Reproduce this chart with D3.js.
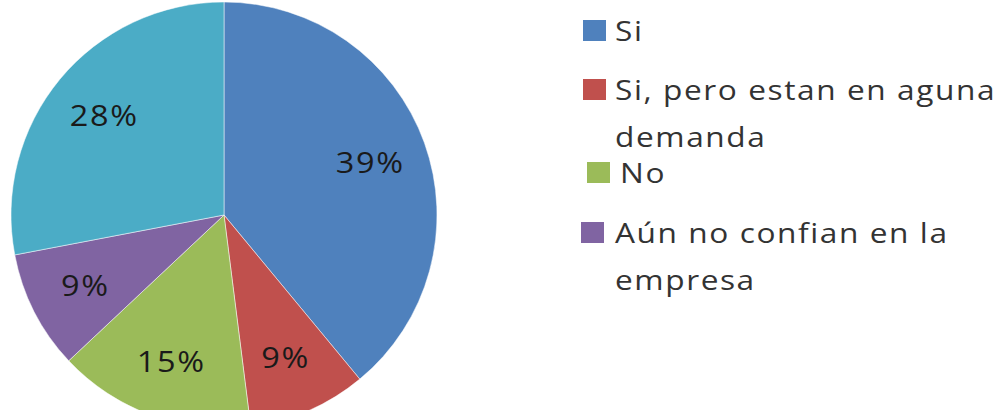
<!DOCTYPE html>
<html>
<head>
<meta charset="utf-8">
<script src="https://cdn.jsdelivr.net/npm/d3@7"></script>
<style>
    body { margin: 0; background: #fff; }
    text { font-family: "Open Sans", "DejaVu Sans", sans-serif; }
</style>
</head>
<body>
<div id="chart"></div>
<script>
// slices, clockwise from 12 o'clock
const categories = ["Si", "Si, pero estan en aguna demanda", "No", "Aún no confian en la empresa", "Otro"];
const values = [39, 9, 15, 9, 28];
const colors = ["#4F81BD", "#C0504D", "#9BBB59", "#8064A2", "#4BACC6"];

// legend rows as they wrap in the picture (the fifth slice has no legend entry)
const legendLines = [
    ["Si"],
    ["Si, pero estan en aguna", "demanda"],
    ["No"],
    ["Aún no confian en la", "empresa"]
];

class PieChart {
    constructor(parentElement) {
        this.parentElement = parentElement;
        this.width = 1000;
        this.height = 410;
        this.initVis();
    }

    initVis() {
        let vis = this;

        vis.svg = d3.select("#" + vis.parentElement).append("svg")
            .attr("width", vis.width)
            .attr("height", vis.height);

        vis.radius = 213;
        vis.g = vis.svg.append("g")
            .attr("transform", "translate(224,215)");

        vis.pie = d3.pie().sort(null).value(d => d.value);
        vis.arc = d3.arc().innerRadius(0).outerRadius(vis.radius);
        vis.labelArc = d3.arc().innerRadius(vis.radius * 0.73).outerRadius(vis.radius * 0.73);

        let data = categories.map((c, i) => ({name: c, value: values[i], color: colors[i]}));
        let arcs = vis.pie(data);

        vis.g.selectAll(".slice")
            .data(arcs)
            .enter().append("path")
            .attr("class", "slice")
            .attr("d", vis.arc)
            .attr("fill", d => d.data.color)
            .attr("stroke", "#fff")
            .attr("stroke-width", 0.5);

        // the original text is a little stretched sideways
        vis.g.selectAll(".label")
            .data(arcs)
            .enter().append("text")
            .attr("class", "label")
            .attr("transform", d => `translate(${vis.labelArc.centroid(d)}) scale(1.12,1)`)
            .attr("text-anchor", "middle")
            .attr("dy", "0.36em")
            .attr("font-size", 29)
            .attr("letter-spacing", 1.5)
            .attr("fill", "#1a1a1a")
            .text(d => d.data.value + "%");

        // legend
        let rowY = [31, 90, 173, 233];
        let swatchX = [583, 583, 587, 581];
        let textX = [615, 615, 620, 615];

        vis.legend = vis.svg.append("g").attr("class", "legend");

        let items = vis.legend.selectAll(".item")
            .data(legendLines)
            .enter().append("g")
            .attr("class", "item");

        items.append("rect")
            .attr("x", (d, i) => swatchX[i])
            .attr("y", (d, i) => rowY[i] - 11)
            .attr("width", 23)
            .attr("height", 21)
            .attr("fill", (d, i) => colors[i]);

        items.each(function (lines, i) {
            let t = d3.select(this).append("text")
                .attr("transform", `translate(${textX[i]},${rowY[i]}) scale(1.13,1)`)
                .attr("font-size", 28)
                .attr("letter-spacing", 1.4)
                .attr("fill", "#333");
            lines.forEach((line, j) => {
                t.append("tspan")
                    .attr("x", 0)
                    .attr("dy", j === 0 ? "0.36em" : 47)
                    .text(line);
            });
        });
    }
}

new PieChart("chart");
</script>
</body>
</html>
